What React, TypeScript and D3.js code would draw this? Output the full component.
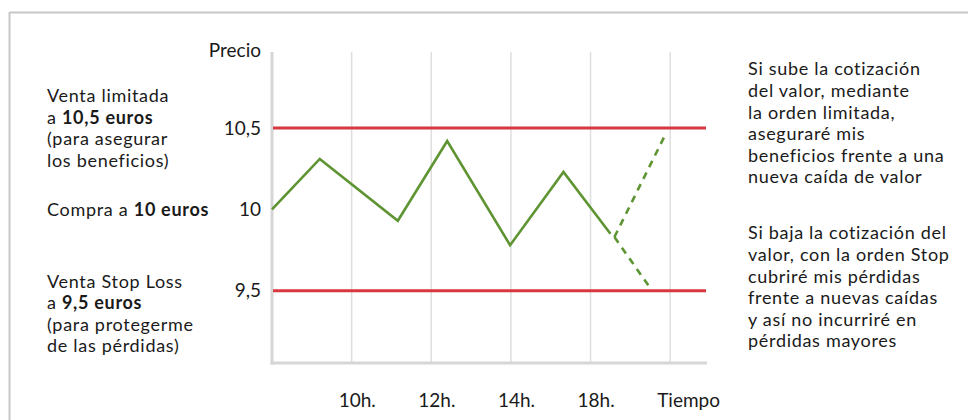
import * as d3 from 'd3';

// price path (x in grid intervals, y in euros)
const priceTimes = [0, 0.6, 1.58, 2.2, 2.99, 3.66, 4.25];
const priceValues = [10.0, 10.31, 9.93, 10.42, 9.78, 10.23, 9.85];
const upTimes = [4.3, 4.93];
const upValues = [9.83, 10.45];
const downTimes = [4.3, 4.73];
const downValues = [9.83, 9.53];

const limitLevels = [10.5, 9.5];
const yTicks = [10.5, 10, 9.5];
const yTickLabels = ['10,5', '10', '9,5'];
const gridTimes = [1, 2, 3, 4, 5];
const xTickLabels = ['10h.', '12h.', '14h.', '18h.', 'Tiempo'];

const leftNotes = [
  { level: 10.5, shift: 0, lines: [['Venta limitada'], ['a ', '10,5 euros'], ['(para asegurar'], ['los beneficios)']] },
  { level: 10, shift: 0, lines: [['Compra a ', '10 euros']] },
  { level: 9.5, shift: 23, lines: [['Venta Stop Loss'], ['a ', '9,5 euros'], ['(para protegerme'], ['de las pérdidas)']] },
];
const rightNotes = [
  ['Si sube la cotización', 'del valor, mediante', 'la orden limitada,', 'aseguraré mis', 'beneficios frente a una', 'nueva caída de valor'],
  ['Si baja la cotización del', 'valor, con la orden Stop', 'cubriré mis pérdidas', 'frente a nuevas caídas', 'y así no incurriré en', 'pérdidas mayores'],
];
const rightCenters = [123, 287];

const W = 968;
const H = 420;
const textFont = 'Lato, "Noto Sans", sans-serif';
const green = '#5e9432';
const red = '#d7373f';
const ink = '#1a1a1a';

export default function App() {
  const x = d3.scaleLinear().domain([0, 5.45]).range([272, 706]);
  const y = d3.scaleLinear().domain([9.5, 10.5]).range([290.7, 128]);
  const top = 52;
  const bottom = 363;

  const path = (ts: number[], vs: number[]) =>
    d3.line<number>().x(t => x(t)).y((_, i) => y(vs[i]))(ts) || '';

  const fs = 18;
  const ls = 0.7;
  const lh = 21.6;

  return (
    <svg width={W} height={H} style={{ position: 'absolute', left: 0, top: 0, display: 'block', background: '#fff' }}>
      {/* frame */}
      <line x1={9.5} x2={W} y1={12.5} y2={12.5} stroke="#c8c8c8" strokeWidth={2} />
      <line x1={9.5} x2={9.5} y1={12} y2={H} stroke="#c8c8c8" strokeWidth={2} />

      {/* vertical gridlines */}
      {gridTimes.map(t => (
        <line key={t} x1={x(t)} x2={x(t)} y1={top} y2={bottom} stroke="#dedede" strokeWidth={1.5} />
      ))}
      {/* axes */}
      <line x1={x(0)} x2={x(0)} y1={top} y2={bottom + 1.5} stroke="#d6d6d6" strokeWidth={3} />
      <line x1={x(0) - 1.5} x2={x(5.45) + 1} y1={bottom} y2={bottom} stroke="#d6d6d6" strokeWidth={3} />

      {/* limit levels */}
      {limitLevels.map(v => (
        <line key={v} x1={x(0) + 1} x2={x(5.45)} y1={y(v)} y2={y(v)} stroke={red} strokeWidth={3} />
      ))}

      {/* price */}
      <path d={path(priceTimes, priceValues)} fill="none" stroke={green} strokeWidth={2.6} />
      <path d={path(upTimes, upValues)} fill="none" stroke={green} strokeWidth={2.6} strokeDasharray="7 6" />
      <path d={path(downTimes, downValues)} fill="none" stroke={green} strokeWidth={2.6} strokeDasharray="7 6" />

      {/* y axis labels */}
      <text x={261} y={50} dy="0.35em" textAnchor="end" fontFamily={textFont} fontSize={19} fill={ink}>Precio</text>
      {yTicks.map((v, i) => (
        <text key={v} x={261} y={y(v)} dy="0.35em" textAnchor="end" fontFamily={textFont} fontSize={19} fill={ink}>
          {yTickLabels[i]}
        </text>
      ))}
      {/* x axis labels */}
      {gridTimes.map((t, i) => (
        <text key={t} x={x(t) - 13} y={400} dy="0.35em" textAnchor="start" fontFamily={textFont} fontSize={19} fill={ink}>
          {xTickLabels[i]}
        </text>
      ))}

      {/* left notes */}
      {leftNotes.map((n, k) => {
        const start = y(n.level) + n.shift - ((n.lines.length - 1) * lh) / 2;
        return (
          <text key={k} y={start} fontFamily={textFont} fontSize={fs} letterSpacing={ls} fill={ink}>
            {n.lines.map((parts, j) => (
              <tspan key={j} x={47} dy={j === 0 ? '0.35em' : lh}>
                {parts.map((p, q) => (
                  <tspan key={q} fontWeight={q === 1 ? 700 : 400}>{p}</tspan>
                ))}
              </tspan>
            ))}
          </text>
        );
      })}

      {/* right notes */}
      {rightNotes.map((block, k) => (
        <text key={k} y={rightCenters[k] - ((block.length - 1) * lh) / 2} fontFamily={textFont} fontSize={fs} letterSpacing={ls} fill={ink}>
          {block.map((s, j) => (
            <tspan key={j} x={748} dy={j === 0 ? '0.35em' : lh}>{s}</tspan>
          ))}
        </text>
      ))}
    </svg>
  );
}
